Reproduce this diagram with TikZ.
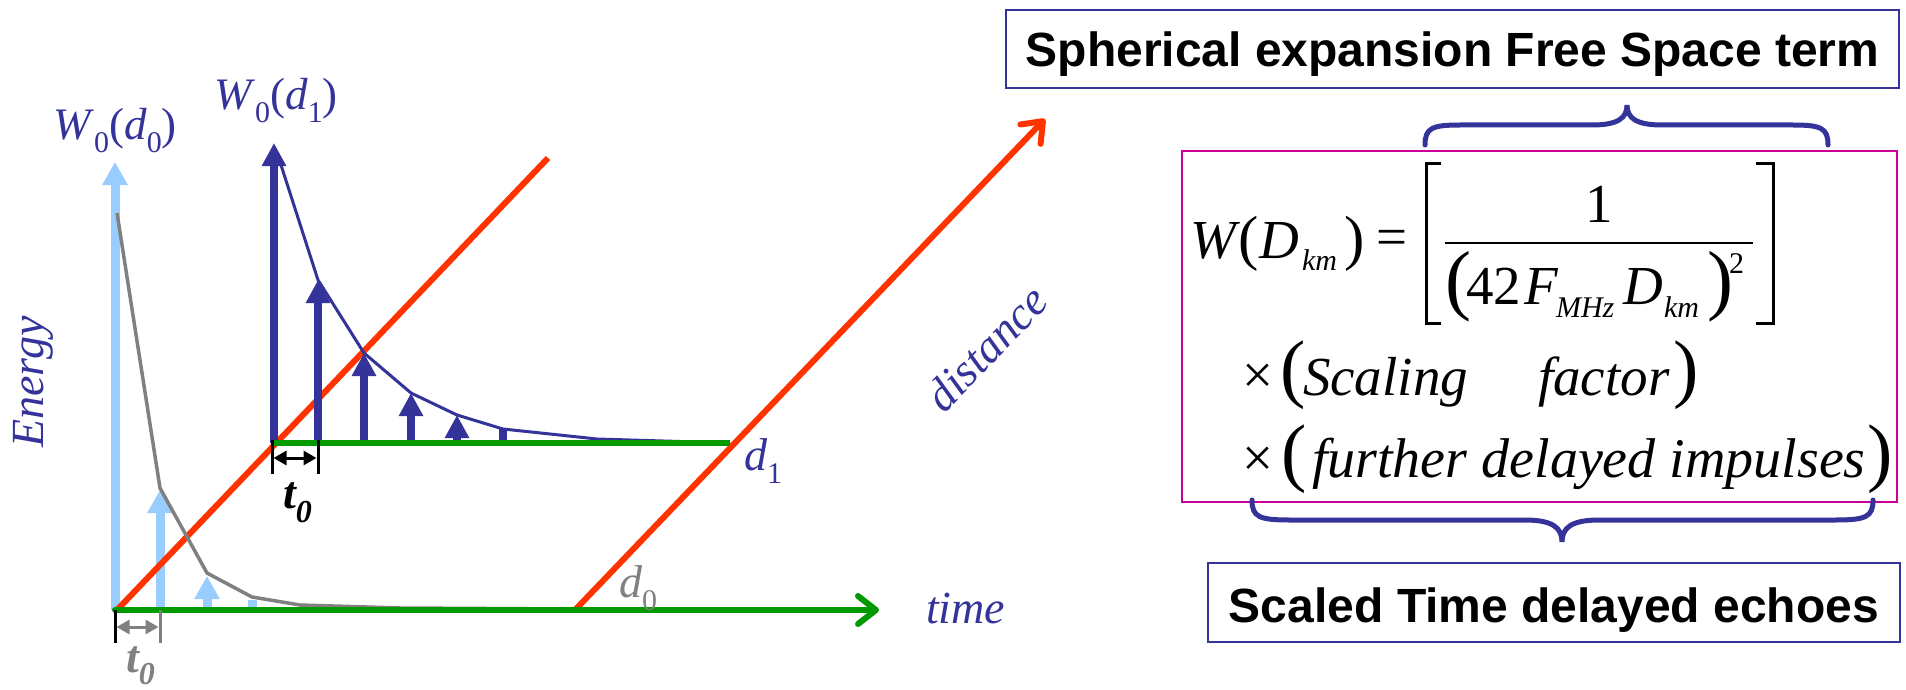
\documentclass[tikz,border=0pt]{standalone}
\usepackage{fontspec}
\setmainfont{Liberation Serif}
\newfontfamily\helv{Liberation Sans}
\usetikzlibrary{arrows.meta}
\definecolor{dblue}{HTML}{333399}
\definecolor{lblue}{HTML}{99CCFF}
\definecolor{rred}{HTML}{FF3300}
\definecolor{ggreen}{HTML}{009900}
\definecolor{ggray}{HTML}{808080}
\definecolor{pinkm}{HTML}{CC0099}
\newcommand\fsz[1]{\fontsize{#1}{#1}\selectfont}
\begin{document}
\begin{tikzpicture}[x=1pt,y=-1pt,
  lab/.style={inner sep=0pt, outer sep=0pt},
  lbarr/.style={draw=lblue, line width=9pt, -{Triangle[length=23pt,width=24pt,fill=lblue]}},
  dbarr/.style={draw=dblue, line width=8pt, -{Triangle[length=23pt,width=23pt,fill=dblue]}},
  rline/.style={draw=rred, line width=6pt},
  gline/.style={draw=ggreen, line width=6pt},
  barb/.style={-{Straight Barb[length=18pt,width=28pt,round]}, line cap=round},
  dimarr/.style={line width=3pt, {Triangle[length=13pt,width=14pt]}-{Triangle[length=13pt,width=14pt]}},
  brace/.style={draw=dblue, line width=5pt, line cap=round},
  tbox/.style={draw=dblue, line width=2pt, inner sep=0pt, font=\helv\fsz{48}\bfseries},
  fm/.style={lab, font=\fsz{55}\itshape},
  fu/.style={lab, font=\fsz{55}},
  sub/.style={lab, font=\fsz{30}\itshape}
]
\useasboundingbox (0,0) rectangle (1906,690);

% ---------- light blue impulses (d0) ----------
\draw[lbarr] (115,610) -- (115,162);
\draw[lbarr] (160,610) -- (160,490);
\draw[lbarr] (207,610) -- (207,576);
\draw[draw=lblue, line width=9pt] (252,610) -- (252,600);

% ---------- red distance lines ----------
\draw[rline] (117,610) -- (548,158);
\draw[rline, barb] (575,610) -- (1045,119);

% ---------- gray envelope ----------
\draw[ggray, line width=3.5pt, line join=round] (117,213) -- (160,488) -- (207,573) -- (252,597) -- (300,605) -- (400,608) -- (574,609);

% ---------- dark blue impulses (d1) ----------
\draw[dbarr] (274,443) -- (274,143);
\draw[dbarr] (318,443) -- (318,280);
\draw[dbarr] (364,443) -- (364,353);
\draw[dbarr] (411,443) -- (411,393);
\draw[dbarr] (457,443) -- (457,415);
\draw[draw=dblue, line width=8pt] (503,443) -- (503,429);
\draw[dblue, line width=3pt, line join=round] (281,165) -- (318,280) -- (364,353) -- (411,393) -- (457,415) -- (503,429) -- (597,439) -- (730,443);

% ---------- green time axes ----------
\draw[gline] (274,443) -- (730,443);
\draw[gline, barb] (115,610) -- (879,610);

% ---------- t0 dimensions ----------
\draw[black, line width=3pt] (272,440) -- (272,474) (318,440) -- (318,474);
\draw[black, dimarr] (273.5,458) -- (316.5,458);
\node[lab, anchor=base west, font=\bfseries\itshape] (t0a) at (283,508) {\fsz{46}t\fsz{32}\raisebox{-14pt}{0}};
\draw[black, line width=3pt] (115,610) -- (115,643);
\draw[ggray, line width=3pt] (160,610) -- (160,643);
\draw[ggray, dimarr] (116.5,627) -- (158.5,627);
\node[lab, anchor=base west, ggray, font=\bfseries\itshape] (t0b) at (126,672) {\fsz{46}t\fsz{32}\raisebox{-12pt}{0}};

% ---------- axis labels ----------
\node[lab, anchor=base, dblue] (w0d0) at (115,140) {\fsz{45}\textit{W}\fsz{30}\raisebox{-13pt}{0}\fsz{45}(\textit{d}\fsz{30}\raisebox{-13pt}{0}\fsz{45})};
\node[lab, anchor=base, dblue] (w0d1) at (276,110) {\fsz{45}\textit{W}\fsz{30}\raisebox{-13pt}{0}\fsz{45}(\textit{d}\fsz{30}\raisebox{-13pt}{1}\fsz{45})};
\node[lab, rotate=90, dblue, font=\fsz{46}\itshape] (energy) at (33,382) {Energy};
\node[lab, anchor=base west, dblue, font=\fsz{46}\itshape] (time) at (926,623) {time};
\node[lab, rotate=46, dblue, font=\fsz{46}\itshape] (dist) at (986,348) {distance};
\node[lab, anchor=base west, ggray] (d0) at (619,597) {\fsz{46}\textit{d}\fsz{30}\raisebox{-13pt}{0}};
\node[lab, anchor=base west, dblue] (d1) at (744,470) {\fsz{46}\textit{d}\fsz{30}\raisebox{-13pt}{1}};

% ---------- right: boxes ----------
\node[tbox, anchor=base, minimum width=893pt, text height=57pt, text depth=21pt] (top) at (1452.5,67) {Spherical expansion Free Space term};
\node[tbox, anchor=base, minimum width=692pt, text height=59pt, text depth=20pt] (bot) at (1554,622) {Scaled Time delayed echoes};
\draw[pinkm, line width=2pt] (1182,151) rectangle (1897,502);

% braces
\draw[brace] (1425,145) .. controls (1425,128) and (1432,125) .. (1460,125) -- (1592,125) .. controls (1618,125) and (1627,118) .. (1627,105)
  .. controls (1627,118) and (1636,125) .. (1662,125) -- (1793,125) .. controls (1821,125) and (1828,128) .. (1828,145);
\draw[brace] (1252,500) .. controls (1252,517) and (1259,520) .. (1290,520) -- (1525,520) .. controls (1553,520) and (1562,528) .. (1562,542)
  .. controls (1562,528) and (1571,520) .. (1599,520) -- (1835,520) .. controls (1866,520) and (1873,517) .. (1873,500);

% ---------- formula ----------
\node[fm, anchor=base west] (fW) at (1190,258) {W};
\node[fu, font=\fsz{61}] (fp1) at (1249,244) {(};
\node[fm, anchor=base west] (fD) at (1259,258) {D};
\node[sub, anchor=base west] (fkm) at (1302,270) {km};
\node[fu, font=\fsz{61}] (fp2) at (1355,244) {)};
\node[fu] (feq) at (1392,243) {=};
\draw[black, line width=3pt] (1441,163) -- (1426,163) -- (1426,323) -- (1441,323);
\draw[black, line width=3pt] (1756,163) -- (1773,163) -- (1773,323) -- (1756,323);
\draw[black, line width=2.5pt] (1445,243) -- (1753,243);
\node[fu, anchor=base] (fone) at (1599,222) {1};
\node[fu, font=\fsz{78}] (fp3) at (1458,287) {(};
\node[fu, anchor=base west] (f42) at (1466,304) {42};
\node[fm, anchor=base west] (fF) at (1524,304) {F};
\node[sub, anchor=base west] (fMHz) at (1556,317) {MHz};
\node[fm, anchor=base west] (fD2) at (1623,304) {D};
\node[sub, anchor=base west] (fkm2) at (1664,317) {km};
\node[fu, font=\fsz{78}] (fp4) at (1720,287) {)};
\node[lab, font=\fsz{30}, anchor=base west] (fsq) at (1729,273) {2};

\node[fu] (x1) at (1258,379) {×};
\node[fu, font=\fsz{76}] (p5) at (1293,375) {(};
\node[fm, anchor=base west] (scal) at (1303,395) {Scaling};
\node[fm, anchor=base west] (fact) at (1538,395) {factor};
\node[fu, font=\fsz{76}] (p6) at (1686,375) {)};

\node[fu] (x2) at (1258,462) {×};
\node[fu, font=\fsz{76}] (p7) at (1294,459) {(};
\node[fm, anchor=base west, font=\fsz{56}\itshape] (fur) at (1312,477) {further delayed impulses};
\node[fu, font=\fsz{76}] (p8) at (1880,459) {)};
\end{tikzpicture}
\end{document}
